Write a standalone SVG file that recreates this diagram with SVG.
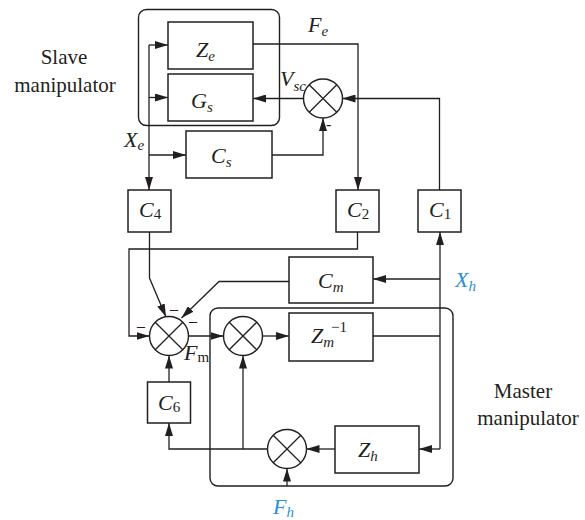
<svg xmlns="http://www.w3.org/2000/svg" width="585" height="520" viewBox="0 0 585 520">
<defs>
<style>
.ln{fill:none;stroke:#231f20;stroke-width:1.3}
.bx{fill:#fff;stroke:#231f20;stroke-width:1.5}
.grp{fill:none;stroke:#231f20;stroke-width:1.4}
.sj{fill:#fff;stroke:#231f20;stroke-width:1.4}
.lab{font-family:"Liberation Serif","Times New Roman",serif;font-style:italic;font-size:22px;fill:#231f20}
.sub{font-size:15px}
.up{font-style:normal}
.blue{fill:#2b8fd6}
.cap{font-family:"Liberation Serif","Times New Roman",serif;font-size:21px;fill:#231f20;text-anchor:middle}
.sgn{font-family:"Liberation Serif","Times New Roman",serif;font-size:16px;fill:#231f20}
</style>
<marker id="ah" viewBox="0 0 13 8" refX="13" refY="4" markerWidth="13" markerHeight="8" markerUnits="userSpaceOnUse" orient="auto">
<path d="M0,0 L13,4 L0,8 z" fill="#231f20"/>
</marker>
</defs>
<rect width="585" height="520" fill="#fff"/>

<g id="slave-group">
<rect class="grp" x="138.5" y="9.5" width="141" height="116" rx="8"/>
<text class="cap" x="64" y="64">Slave</text>
<text class="cap" x="65" y="92">manipulator</text>
</g>
<g id="master-group">
<rect class="grp" x="210" y="308" width="243" height="178" rx="8"/>
<text class="cap" x="523" y="398">Master</text>
<text class="cap" x="528" y="425">manipulator</text>
</g>

<g id="connectors">
<path class="ln" d="M149,45 V190" marker-end="url(#ah)"/>
<path class="ln" d="M149,45 H168" marker-end="url(#ah)"/>
<path class="ln" d="M149,97.5 H168" marker-end="url(#ah)"/>
<path class="ln" d="M149,155 H186" marker-end="url(#ah)"/>
<path class="ln" d="M253,44 H358 V190" marker-end="url(#ah)"/>
<path class="ln" d="M303.5,98.5 H253" marker-end="url(#ah)"/>
<path class="ln" d="M272,155 H323 V118" marker-end="url(#ah)"/>
<path class="ln" d="M439.5,190 V98.5 H342.5" marker-end="url(#ah)"/>
<path class="ln" d="M357.5,232 V249 H129 V336 H149.5" marker-end="url(#ah)"/>
<path class="ln" d="M149.5,232 V278 L166,317" marker-end="url(#ah)"/>
<path class="ln" d="M289,281.5 H219 L181.5,318" marker-end="url(#ah)"/>
<path class="ln" d="M188.5,336 H223.5" marker-end="url(#ah)"/>
<path class="ln" d="M262.5,336 H289" marker-end="url(#ah)"/>
<path class="ln" d="M373,336 H440"/>
<path class="ln" d="M440,449 V232" marker-end="url(#ah)"/>
<path class="ln" d="M440,279 H373" marker-end="url(#ah)"/>
<path class="ln" d="M440,449 H419" marker-end="url(#ah)"/>
<path class="ln" d="M335,449 H306.5" marker-end="url(#ah)"/>
<path class="ln" d="M287,486 V468.5" marker-end="url(#ah)"/>
<path class="ln" d="M267.5,449 H169 V423" marker-end="url(#ah)"/>
<path class="ln" d="M243,449 V355.5" marker-end="url(#ah)"/>
<path class="ln" d="M169,382 V355.5" marker-end="url(#ah)"/>
</g>

<g id="Ze">
<rect class="bx" x="168" y="22" width="85" height="47"/>
<text class="lab" x="196" y="57">Z<tspan class="sub" dy="4">e</tspan></text>
</g>
<g id="Gs">
<rect class="bx" x="168" y="74" width="85" height="47"/>
<text class="lab" x="191" y="108">G<tspan class="sub" dy="4">s</tspan></text>
</g>
<g id="Cs">
<rect class="bx" x="186" y="131" width="86" height="47"/>
<text class="lab" x="211" y="163">C<tspan class="sub" dy="4">s</tspan></text>
</g>
<g id="sum-slave">
<circle class="sj" cx="323" cy="98.5" r="19.5"/>
<path class="ln" d="M309.2,84.7 L336.8,112.3 M336.8,84.7 L309.2,112.3"/>
<text class="sgn" x="326" y="130">-</text>
</g>
<g id="C4">
<rect class="bx" x="128" y="190" width="43" height="42"/>
<text class="lab" x="139" y="217">C<tspan class="sub up" dy="2">4</tspan></text>
</g>
<g id="C2">
<rect class="bx" x="336" y="190" width="43" height="42"/>
<text class="lab" x="347" y="217">C<tspan class="sub up" dy="2">2</tspan></text>
</g>
<g id="C1">
<rect class="bx" x="418" y="190" width="43" height="42"/>
<text class="lab" x="429" y="217">C<tspan class="sub up" dy="2">1</tspan></text>
</g>
<g id="Cm">
<rect class="bx" x="289" y="257" width="84" height="46"/>
<text class="lab" x="318" y="288">C<tspan class="sub" dy="4">m</tspan></text>
</g>
<g id="sum-A">
<circle class="sj" cx="169" cy="336" r="19.5"/>
<path class="ln" d="M155.2,322.2 L182.8,349.8 M182.8,322.2 L155.2,349.8"/>
<text class="sgn" x="170" y="314">–</text>
<text class="sgn" x="137" y="331">–</text>
<text class="sgn" x="189" y="326">–</text>
</g>
<g id="sum-B">
<circle class="sj" cx="243" cy="336" r="19.5"/>
<path class="ln" d="M229.2,322.2 L256.8,349.8 M256.8,322.2 L229.2,349.8"/>
</g>
<g id="Zm">
<rect class="bx" x="289" y="313" width="84" height="48"/>
<text class="lab" x="311" y="343">Z<tspan class="sub" dy="4">m</tspan><tspan class="sub up" x="331" y="332">−1</tspan></text>
</g>
<g id="C6">
<rect class="bx" x="147.5" y="382" width="43" height="41"/>
<text class="lab" x="158" y="410">C<tspan class="sub up" dy="2">6</tspan></text>
</g>
<g id="sum-C">
<circle class="sj" cx="287" cy="449" r="19.5"/>
<path class="ln" d="M273.2,435.2 L300.8,462.8 M300.8,435.2 L273.2,462.8"/>
</g>
<g id="Zh">
<rect class="bx" x="335" y="426" width="84" height="47"/>
<text class="lab" x="358" y="457">Z<tspan class="sub" dy="4">h</tspan></text>
</g>

<g id="labels">
<text class="lab" x="308" y="32">F<tspan class="sub" dy="4">e</tspan></text>
<text class="lab" x="280" y="86">V<tspan class="sub" dy="5">sc</tspan></text>
<text class="lab" x="124" y="147">X<tspan class="sub" dy="3">e</tspan></text>
<text class="lab blue" x="455" y="287">X<tspan class="sub" dy="4">h</tspan></text>
<text class="lab blue" x="273" y="514">F<tspan class="sub" dy="3">h</tspan></text>
<text class="lab" x="184" y="360">F<tspan class="sub up" dy="2">m</tspan></text>
</g>
</svg>
